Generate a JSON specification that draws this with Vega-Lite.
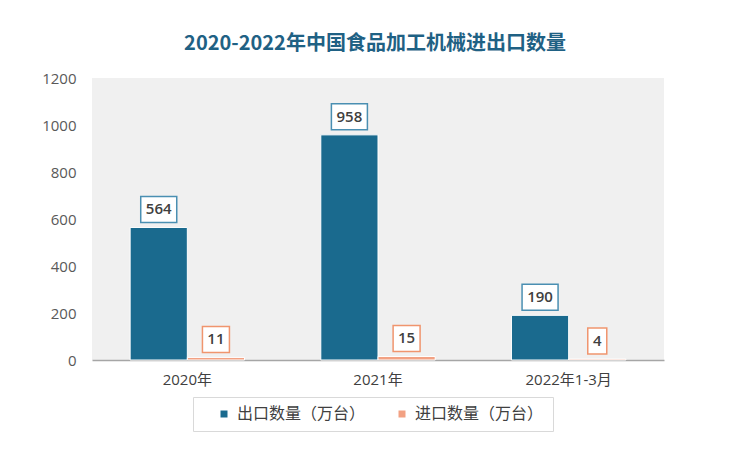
{
  "$schema": "https://vega.github.io/schema/vega-lite/v6.json",
  "autosize": {"type": "none"},
  "width": 572,
  "height": 282,
  "padding": {"left": 92, "top": 78, "right": 86, "bottom": 101},
  "background": "white",
  "title": {
    "text": "2020-2022年中国食品加工机械进出口数量",
    "font": "Noto Sans CJK SC",
    "fontSize": 20,
    "fontWeight": "bold",
    "color": "#1f6184",
    "anchor": "middle",
    "dx": -3,
    "offset": 17
  },
  "config": {
    "view": {"fill": "#f0f0f0", "stroke": null}
  },
  "data": {
    "values": [
      {"year": "2020年", "series": "出口数量（万台）", "v": 564},
      {"year": "2020年", "series": "进口数量（万台）", "v": 11},
      {"year": "2021年", "series": "出口数量（万台）", "v": 958},
      {"year": "2021年", "series": "进口数量（万台）", "v": 15},
      {"year": "2022年1-3月", "series": "出口数量（万台）", "v": 190},
      {"year": "2022年1-3月", "series": "进口数量（万台）", "v": 4}
    ]
  },
  "encoding": {
    "x": {
      "field": "year", "type": "nominal", "sort": null,
      "scale": {"paddingInner": 0.4, "paddingOuter": 0.2},
      "axis": {
        "title": null, "labelAngle": 0, "ticks": false,
        "domainColor": "#a6a6a6", "domainWidth": 1.5,
        "labelFont": "Open Sans, Noto Sans CJK SC", "labelFontSize": 15,
        "labelColor": "#404040", "labelPadding": 12
      }
    },
    "xOffset": {
      "field": "series", "type": "nominal",
      "scale": {"domain": ["出口数量（万台）", "进口数量（万台）"], "paddingInner": 0, "paddingOuter": 0}
    },
    "y": {
      "field": "v", "type": "quantitative",
      "scale": {"domain": [0, 1200], "nice": false},
      "axis": {
        "title": null, "values": [0, 200, 400, 600, 800, 1000, 1200], "format": "d",
        "domain": false, "ticks": false, "grid": false,
        "labelFont": "Open Sans", "labelFontSize": 15,
        "labelColor": "#595959", "labelPadding": 16
      }
    }
  },
  "layer": [
    {
      "mark": {"type": "bar", "stroke": "white", "strokeWidth": 1},
      "encoding": {
        "color": {
          "field": "series", "type": "nominal",
          "scale": {"domain": ["出口数量（万台）", "进口数量（万台）"], "range": ["#1a6a8e", "#f2a183"]},
          "legend": {
            "orient": "none", "legendX": 101, "legendY": 319,
            "direction": "horizontal",
            "title": null,
            "symbolType": "square", "symbolSize": 49, "symbolStrokeWidth": 0,
            "symbolOffset": 14, "labelOffset": 5, "columnPadding": 14,
            "labelFont": "Noto Sans CJK SC", "labelFontSize": 16, "labelColor": "#404040",
            "strokeColor": "#d9d9d9", "padding": 9, "fillColor": "white"
          }
        }
      }
    },
    {
      "mark": {"type": "point", "filled": false, "size": 676, "strokeWidth": 1.5, "fill": "white", "fillOpacity": 1, "opacity": 1},
      "encoding": {
        "shape": {
          "condition": [
            {"test": "datum.v >= 100", "value": "M-1.385,-2.385L1.385,-2.385L1.385,-0.385L-1.385,-0.385Z"},
            {"test": "datum.v >= 10", "value": "M-1.038,-2.385L1.038,-2.385L1.038,-0.385L-1.038,-0.385Z"}
          ],
          "value": "M-0.731,-2.385L0.731,-2.385L0.731,-0.385L-0.731,-0.385Z"
        },
        "stroke": {
          "field": "series", "type": "nominal",
          "scale": {"domain": ["出口数量（万台）", "进口数量（万台）"], "range": ["#4a8fb2", "#f0956e"]},
          "legend": null
        }
      }
    },
    {
      "mark": {"type": "text", "dy": -18, "baseline": "middle", "font": "Open Sans", "fontSize": 15, "fontWeight": 600, "color": "#404040"},
      "encoding": {"text": {"field": "v", "type": "quantitative"}}
    }
  ]
}
